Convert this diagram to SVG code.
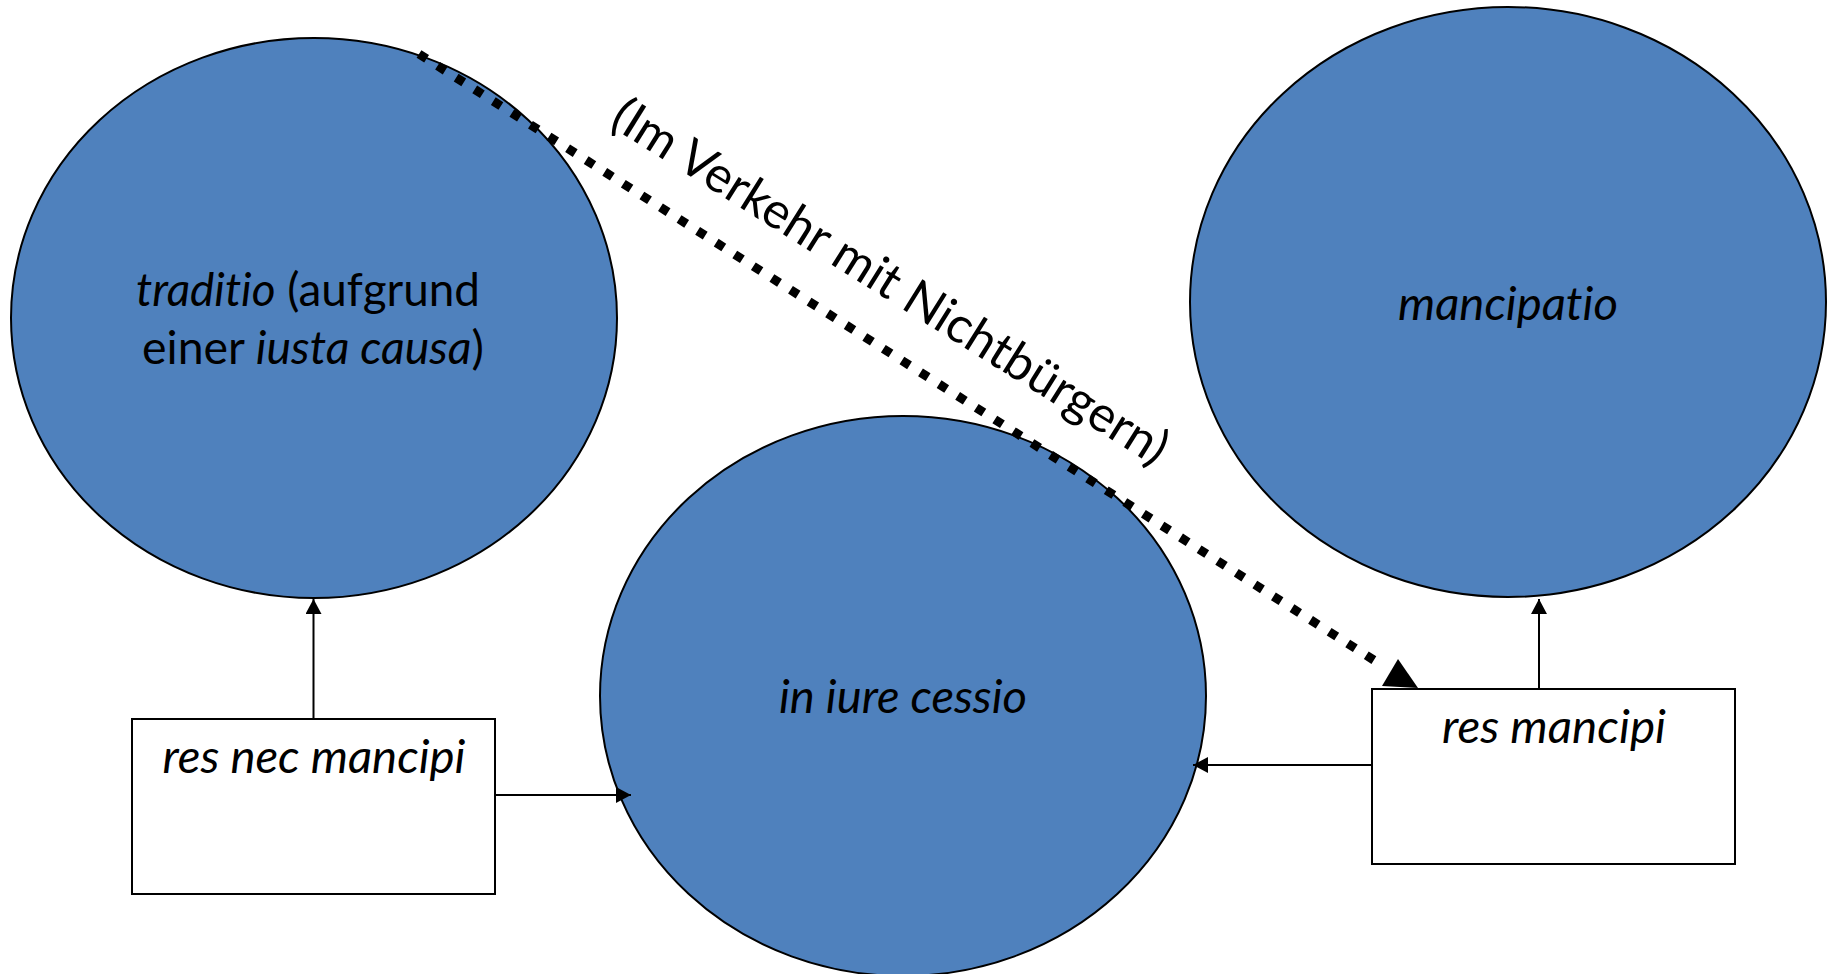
<svg xmlns="http://www.w3.org/2000/svg" width="1831" height="974" viewBox="0 0 1831 974">
  <style>
    .blob { fill: #4F81BD; stroke: #000; stroke-width: 2; }
    .box { fill: #FFFFFF; stroke: #000; stroke-width: 2; }
    .lbl { font-family: Lato, "Liberation Sans", sans-serif; font-size: 46px; fill: #000; text-anchor: middle; font-variant-ligatures: none; }
    .it { font-style: italic; }
    .conn { fill: none; stroke: #000; stroke-width: 2; }
    .dots { fill: none; stroke: #000; stroke-width: 9; stroke-dasharray: 9 13; }
    .note { font-family: Lato, "Liberation Sans", sans-serif; font-size: 50px; fill: #000; font-variant-ligatures: none; }
  </style>
  <defs>
    <marker id="arr" markerUnits="userSpaceOnUse" markerWidth="16" markerHeight="16" refX="15" refY="8" orient="auto">
      <path d="M0,0 L15,8 L0,16 Z" fill="#000"/>
    </marker>
  </defs>
  <rect x="0" y="0" width="1831" height="974" fill="#FFFFFF"/>

  <g id="node-traditio">
    <ellipse class="blob" cx="314" cy="318" rx="303" ry="280"/>
    <text class="lbl" x="308" y="306" textLength="344" lengthAdjust="spacingAndGlyphs"><tspan class="it">traditio</tspan> (aufgrund</text>
    <text class="lbl" x="313" y="364" textLength="342" lengthAdjust="spacingAndGlyphs">einer <tspan class="it">iusta causa</tspan>)</text>
  </g>

  <g id="node-mancipatio">
    <ellipse class="blob" cx="1508" cy="302" rx="318" ry="295"/>
    <text class="lbl it" x="1508" y="320" textLength="220" lengthAdjust="spacingAndGlyphs">mancipatio</text>
  </g>

  <g id="node-in-iure-cessio">
    <ellipse class="blob" cx="903" cy="696" rx="303" ry="280"/>
    <text class="lbl it" x="903" y="713" textLength="248" lengthAdjust="spacingAndGlyphs">in iure cessio</text>
  </g>

  <g id="node-res-nec-mancipi">
    <rect class="box" x="132" y="719" width="363" height="175"/>
    <text class="lbl it" x="314" y="773" textLength="303" lengthAdjust="spacingAndGlyphs">res nec mancipi</text>
  </g>

  <g id="node-res-mancipi">
    <rect class="box" x="1372" y="689" width="363" height="175"/>
    <text class="lbl it" x="1554" y="743" textLength="224" lengthAdjust="spacingAndGlyphs">res mancipi</text>
  </g>

  <g id="connectors">
    <path class="conn" d="M313.5,719 L313.5,599" marker-end="url(#arr)"/>
    <path class="conn" d="M495.5,795 L631,795" marker-end="url(#arr)"/>
    <path class="conn" d="M1372,765 L1193,765" marker-end="url(#arr)"/>
    <path class="conn" d="M1539,689 L1539,599" marker-end="url(#arr)"/>
    <path class="dots" d="M419,54 L1380,664"/>
    <polygon points="1398,659 1382,686 1418,688" fill="#000"/>
    <text class="note" transform="translate(608,125) rotate(32)" textLength="645" lengthAdjust="spacingAndGlyphs">(Im Verkehr mit Nichtbürgern)</text>
  </g>
</svg>
